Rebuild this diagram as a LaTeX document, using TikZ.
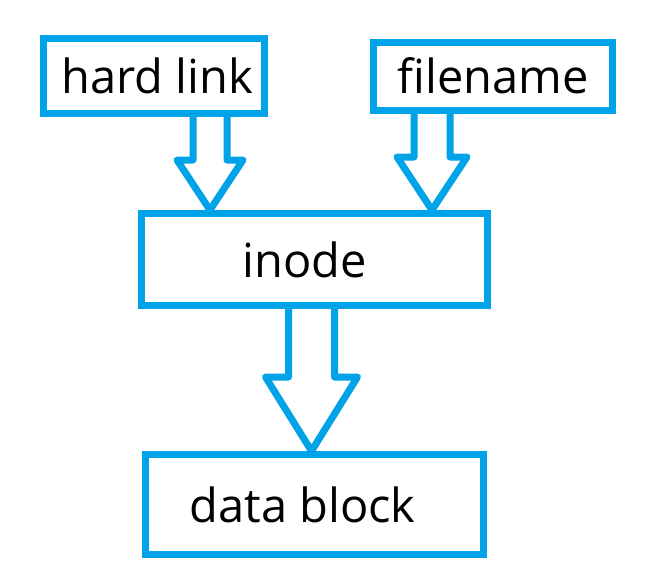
\documentclass[tikz,border=0pt]{standalone}
\usepackage{fontspec}
\setmainfont{Open Sans}
\usepackage{xcolor}
\usepackage{tikz}
\usetikzlibrary{positioning, calc}

\definecolor{paintblue}{RGB}{0,162,232}

\tikzset{
  box/.style={draw=paintblue, line width=7pt, inner sep=0pt,
              font=\fontsize{47}{50}\selectfont},
  arrowline/.style={draw=paintblue, line width=7pt, line join=round}
}

% hollow block arrow: source, target, x, shaft half width, head half width, head length
\newcommand{\blockarrow}[6]{%
  \coordinate (tail) at (#1.south -| #3,0);
  \coordinate (tip) at (#2.north -| #3,0);
  \draw[arrowline] ($(tail)+(-#4,0)$) -- ($(tip)+(-#4,-#6)$) -- ($(tip)+(-#5,-#6)$) -- (tip)
    -- ($(tip)+(#5,-#6)$) -- ($(tip)+(#4,-#6)$) -- ($(tail)+(#4,0)$);}

\begin{document}
\begin{tikzpicture}[x=1pt, y=-1pt, on grid]
        \useasboundingbox (0,0) rectangle (649,584);
        \node[box, minimum width=221pt, minimum height=75pt] (hard) at (154,76) {\hspace*{7pt}hard link};
        \node[box, minimum width=239pt, minimum height=68pt] (fname) [right=339pt of hard] {filename};
        \node[box, minimum width=346pt, minimum height=92pt] (inode) at (314.5,259.5) {inode\hspace*{19pt}};
        \node[box, minimum width=338pt, minimum height=100pt] (data) [below=245pt of inode] {data block\hspace*{24pt}};

        \blockarrow{hard}{inode}{210}{17}{33}{50}
        \blockarrow{fname}{inode}{432}{18}{35}{53}
        \blockarrow{inode}{data}{311.5}{23}{46}{74}

    \end{tikzpicture}
\end{document}
